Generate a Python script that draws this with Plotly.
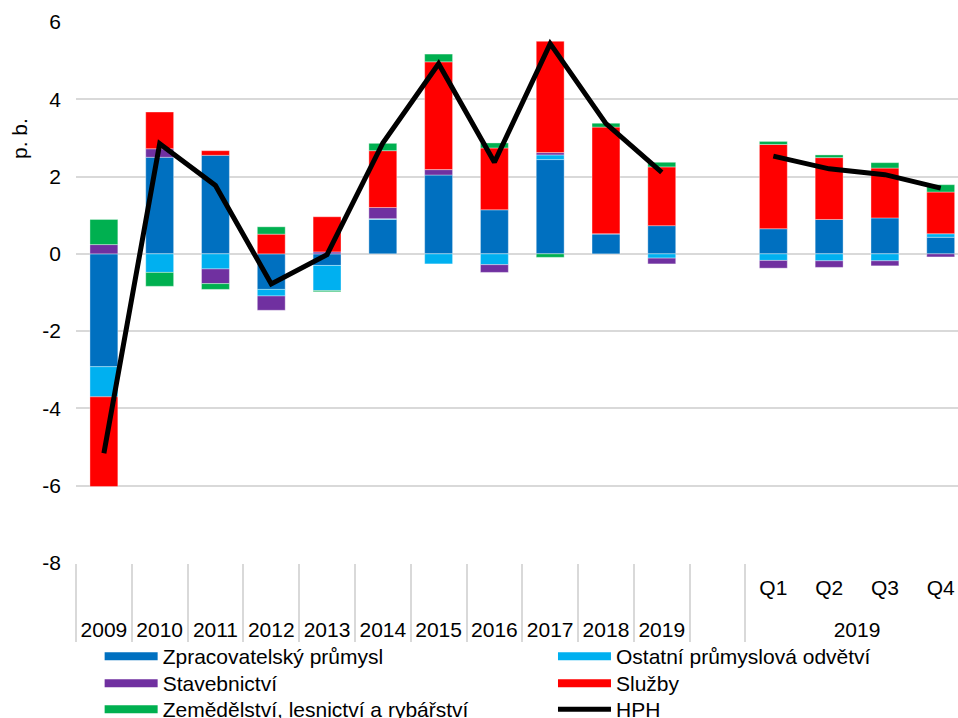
import plotly.graph_objects as go

# Categories
years = ["2009", "2010", "2011", "2012", "2013", "2014", "2015", "2016", "2017", "2018", "2019"]
quarters = ["Q1", "Q2", "Q3", "Q4"]
quarter_year = "2019\u200b"  # distinct group label for quarterly block

outer = years + [" "] + [quarter_year] * len(quarters)
inner = [""] * len(years) + ["\u00a0"] + [q + "<br>\u00a0" for q in quarters]

# Series values (p. b.), None = empty gap category
zpracovatelsky = [-2.92, 2.50, 2.55, -0.92, -0.30, 0.89, 2.04, 1.14, 2.44, 0.52, 0.73, None, 0.65, 0.89, 0.93, 0.43]
ostatni =        [-0.78, -0.48, -0.39, -0.17, -0.65, 0.02, -0.26, -0.28, 0.12, 0.00, -0.11, None, -0.17, -0.18, -0.18, 0.09]
stavebnictvi =   [0.24, 0.22, -0.38, -0.37, 0.05, 0.29, 0.14, -0.20, 0.06, 0.00, -0.15, None, -0.20, -0.17, -0.13, -0.08]
sluzby =         [-2.32, 0.95, 0.12, 0.51, 0.91, 1.47, 2.79, 1.60, 2.88, 2.76, 1.52, None, 2.18, 1.60, 1.29, 1.08]
zemedelstvi =    [0.65, -0.36, -0.15, 0.19, -0.03, 0.19, 0.20, 0.13, -0.09, 0.10, 0.12, None, 0.08, 0.07, 0.14, 0.19]
hph =            [-5.16, 2.85, 1.77, -0.78, -0.02, 2.87, 4.92, 2.37, 5.44, 3.37, 2.11, None, 2.53, 2.20, 2.05, 1.70]

y_tickvals = [6, 4, 2, 0, -2, -4, -6, -8]
y_ticktext = ["6", "4", "2", "0", "-2", "-4", "-6", "-8"]

# name, values, colour, legend id
series = [
    ("Zpracovatelský průmysl", zpracovatelsky, "#0070C0", "legend"),
    ("Ostatní průmyslová odvětví", ostatni, "#00B0F0", "legend2"),
    ("Stavebnictví", stavebnictvi, "#7030A0", "legend3"),
    ("Služby", sluzby, "#FF0000", "legend4"),
    ("Zemědělství, lesnictví a rybářství", zemedelstvi, "#00B050", "legend5"),
]

x = [outer, inner]
fig = go.Figure()
for name, vals, color, leg in series:
    fig.add_trace(go.Bar(
        x=x, y=vals, name=name, showlegend=False, legendgroup=name,
        marker=dict(color=color, line=dict(width=0.6, color="rgba(255,255,255,0.6)")),
    ))
# legend entries drawn as wide colour bars (no data points)
for name, vals, color, leg in series:
    fig.add_trace(go.Scatter(
        x=[[outer[0]], [inner[0]]], y=[None], name=name, legendgroup=name,
        mode="lines", line=dict(color=color, width=8), showlegend=True, legend=leg,
    ))
fig.add_trace(go.Scatter(
    x=x, y=hph, name="HPH", mode="lines",
    line=dict(color="black", width=5),
    connectgaps=False, legend="legend6",
))

font = "Liberation Sans, Arial, sans-serif"
legend_common = dict(
    orientation="v", yanchor="top", xanchor="left", itemwidth=53,
    font=dict(size=21), tracegroupgap=0, traceorder="normal",
    bgcolor="rgba(0,0,0,0)",
)
col_x = [0.0268, 0.5408]
row_y = [-0.1349, -0.1848, -0.2329]
legends = {}
ids = ["legend", "legend2", "legend3", "legend4", "legend5", "legend6"]
for i, lid in enumerate(ids):
    legends[lid] = dict(x=col_x[i % 2], y=row_y[i // 2], **legend_common)

fig.update_layout(
    width=958, height=718,
    barmode="relative", bargap=0.5,
    plot_bgcolor="white", paper_bgcolor="white",
    margin=dict(l=76, r=0, t=22, b=155, autoexpand=False),
    font=dict(family=font, size=21, color="black"),
    showlegend=True,
    hovermode=False,
    xaxis=dict(
        type="multicategory", range=[-0.5, 15.31], showgrid=False,
        showline=False, ticks="", showdividers=True, dividercolor="#d9d9d9",
        dividerwidth=2, automargin=False, tickfont=dict(size=21),
        ticklabelstandoff=10,
    ),
    yaxis=dict(
        range=[-8, 6], tickvals=y_tickvals, ticktext=y_ticktext,
        showgrid=True, gridcolor="#d9d9d9", gridwidth=2,
        zeroline=True, zerolinecolor="#d9d9d9", zerolinewidth=2,
        ticks="", ticklabelstandoff=14, automargin=False,
        tickfont=dict(size=21),
    ),
    annotations=[dict(
        text="p. b.", xref="paper", yref="paper", x=-0.0635, y=0.7856,
        xanchor="center", yanchor="middle",
        showarrow=False, textangle=-90, font=dict(size=21),
    )],
    **legends,
)

fig.write_html("out.html", config={"displayModeBar": False},
               post_script="document.body.style.margin='0px';")
